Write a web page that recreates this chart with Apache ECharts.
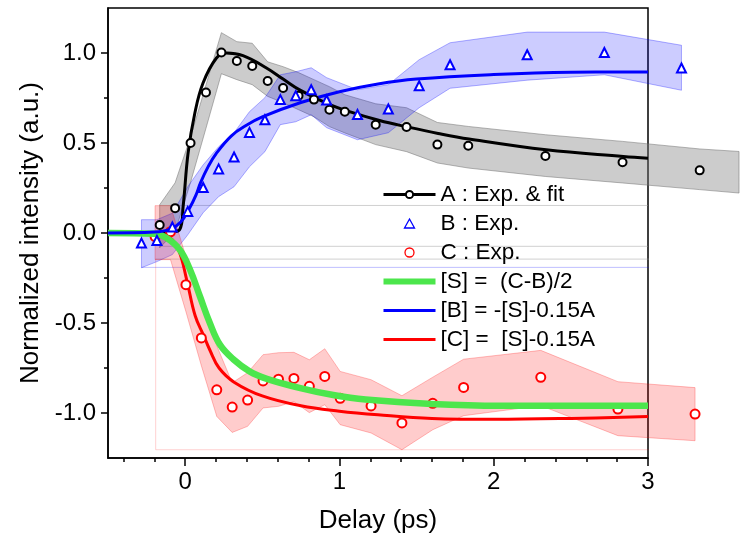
<!DOCTYPE html>
<html><head><meta charset="utf-8">
<script src="https://cdn.jsdelivr.net/npm/echarts@6/dist/echarts.min.js"></script>
<style>html,body{margin:0;padding:0;background:#fff}#c{width:740px;height:542px}</style>
</head><body><div id="c"></div>
<script>
// ---- experimental points ----
const A_x = [-0.165,-0.065,0.035,0.135,0.235,0.335,0.435,0.535,0.635,0.735,0.835,0.935,1.035,1.235,1.435,1.635,1.835,2.335,2.835,3.335];
const A_y = [0.044,0.138,0.50,0.781,1.003,0.956,0.928,0.844,0.806,0.763,0.741,0.685,0.674,0.602,0.589,0.491,0.485,0.428,0.393,0.348];
const B_x = [-0.283,-0.183,-0.083,0.017,0.117,0.217,0.317,0.417,0.517,0.617,0.717,0.817,0.917,1.117,1.317,1.517,1.717,2.217,2.717,3.217];
const B_y = [-0.056,-0.041,0.033,0.12,0.253,0.356,0.422,0.559,0.629,0.741,0.763,0.796,0.739,0.658,0.689,0.818,0.935,0.99,1.003,0.917];
const C_x = [-0.195,-0.095,0.005,0.105,0.205,0.305,0.405,0.505,0.605,0.705,0.805,0.905,1.005,1.205,1.405,1.605,1.805,2.305,2.805,3.305];
const C_y = [-0.02,0.007,-0.287,-0.583,-0.871,-0.967,-0.928,-0.822,-0.812,-0.808,-0.852,-0.797,-0.918,-0.961,-1.055,-0.946,-0.858,-0.802,-0.978,-1.006];

// ---- shaded bands (upper / lower) ----
const bandA_x = [-0.165,-0.065,0.035,0.135,0.235,0.335,0.435,0.535,0.635,0.735,0.835,0.935,1.035,1.235,1.435,1.635,1.835,2.335,2.835,3.335,3.59];
const bandA_up = [0.157,0.279,0.533,0.822,1.113,1.063,1.054,0.951,0.924,0.891,0.852,0.813,0.768,0.718,0.696,0.614,0.592,0.546,0.509,0.467,0.453];
const bandA_lo = [-0.082,0.007,0.281,0.582,0.885,0.852,0.824,0.759,0.724,0.685,0.646,0.591,0.556,0.491,0.452,0.389,0.361,0.314,0.278,0.241,0.222];
const bandB_up = [0.074,0.074,0.11,0.257,0.379,0.479,0.557,0.674,0.752,0.879,0.896,0.918,0.863,0.796,0.824,0.963,1.057,1.116,1.116,1.043];
const bandB_lo = [-0.193,-0.159,-0.12,-0.01,0.113,0.202,0.257,0.368,0.452,0.602,0.618,0.657,0.585,0.518,0.557,0.696,0.804,0.849,0.879,0.793];
const bandC_up = [0.152,0.152,-0.132,-0.382,-0.626,-0.832,-0.776,-0.676,-0.665,-0.663,-0.704,-0.643,-0.769,-0.815,-0.904,-0.801,-0.701,-0.652,-0.826,-0.859];
const bandC_lo = [-0.148,-0.148,-0.437,-0.737,-1.019,-1.108,-1.074,-0.972,-0.963,-0.937,-0.998,-0.954,-1.065,-1.111,-1.204,-1.093,-1.015,-0.959,-1.126,-1.154];

// ---- fitted / model curves ----
const fitA_x = [-0.5,-0.2,-0.1,-0.035,-0.013,0.019,0.063,0.116,0.203,0.268,0.375,0.527,0.635,0.742,0.915,1.065,1.26,1.436,1.64,1.84,2.34,2.84,3.0];
const fitA_y = [0,0,0.005,0.02,0.148,0.444,0.667,0.833,0.972,1.0,0.985,0.917,0.855,0.795,0.722,0.674,0.625,0.59,0.553,0.522,0.462,0.425,0.415];
const fitB_x = [-0.5,-0.2,-0.1,-0.03,0.03,0.07,0.1,0.15,0.2,0.3,0.4,0.5,0.75,1.0,1.25,1.5,2.0,2.5,3.0];
const fitB_y = [0,0.005,0.02,0.06,0.14,0.21,0.28,0.37,0.44,0.54,0.6,0.645,0.725,0.785,0.828,0.855,0.88,0.893,0.895];
const fitS_x = [-0.5,-0.2,-0.12,-0.035,0.03,0.095,0.16,0.225,0.31,0.42,0.53,0.74,0.96,1.17,1.6,2.04,3.0];
const fitS_y = [0,-0.004,-0.028,-0.093,-0.2,-0.35,-0.5,-0.62,-0.7,-0.77,-0.81,-0.86,-0.9,-0.925,-0.95,-0.96,-0.96];
const fitC_x = [-0.5,-0.2,-0.1,-0.04,0.01,0.065,0.12,0.16,0.22,0.32,0.5,0.75,1.0,1.25,1.6,2.0,2.5,3.0];
const fitC_y = [0,0,-0.025,-0.1,-0.26,-0.46,-0.57,-0.65,-0.75,-0.83,-0.905,-0.96,-0.99,-1.01,-1.03,-1.035,-1.03,-1.02];

// ---- faint outline artefacts of the original export ----
const guideGrey = [[[-0.165,0.153],[3.0,0.153]], [[-0.165,-0.074],[3.0,-0.074]], [[-0.191,-0.145],[3.59,-0.145]]];
const guideBlue = [[[-0.283,-0.191],[3.217,-0.191],[3.217,0.793]]];
const guidePink = [[[-0.191,-0.143],[-0.191,-1.204],[3.305,-1.204],[3.305,-1.154]]];

// ---- axes ----
const xMajor = [0,1,2,3];
const xMinor = [-0.4,-0.2,0.2,0.4,0.6,0.8,1.2,1.4,1.6,1.8,2.2,2.4,2.6,2.8];
const yMajor = [-1,-0.5,0,0.5,1];
const yMinor = [-0.75,-0.25,0.25,0.75];

const legendNames = ['A : Exp. & fit','B : Exp.','C : Exp.','[S] =  (C-B)/2','[B] = -[S]-0.15A','[C] =  [S]-0.15A'];

const FONT = "'Liberation Sans', Arial, sans-serif";
const zip = (xs, ys) => xs.map((x, i) => [x, ys[i]]);

function band(xs, up, lo, fill, stroke, z) {
  return {
    type: 'custom', silent: true, z: z, clip: false,
    coordinateSystem: 'cartesian2d', xAxisIndex: 0, yAxisIndex: 0,
    data: [[xs[0], up[0]]],
    renderItem: function (params, api) {
      const pts = [];
      for (let i = 0; i < xs.length; i++) pts.push(api.coord([xs[i], up[i]]));
      for (let i = xs.length - 1; i >= 0; i--) pts.push(api.coord([xs[i], lo[i]]));
      return { type: 'polygon', shape: { points: pts }, style: { fill: fill, stroke: stroke, lineWidth: 1 } };
    }
  };
}
function guide(lines, color) {
  return lines.map(p => ({
    type: 'line', silent: true, z: 1, clip: false, symbol: 'none',
    data: p, lineStyle: { color: color, width: 1 }
  }));
}
function fit(name, xs, ys, color, width, z, symbol) {
  return {
    type: 'line', name: name, silent: true, z: z, clip: false,
    symbol: symbol || 'none', showSymbol: false, smooth: 0.4,
    data: zip(xs, ys),
    itemStyle: { color: symbol ? '#000' : color },
    lineStyle: { color: color, width: width }
  };
}
function pts(name, xs, ys, symbol, color, size, z) {
  return {
    type: 'scatter', name: name, silent: true, z: z, clip: false,
    symbol: symbol, symbolSize: size, data: zip(xs, ys),
    itemStyle: { color: color, borderWidth: 1.2, opacity: 1 }
  };
}
const bar = h => 'path://M0,0H52V' + h + 'H0Z';

const chart = echarts.init(document.getElementById('c'), null, { renderer: 'canvas' });
const axisLine = { show: true, onZero: false, lineStyle: { color: '#000', width: 1.5 } };
chart.setOption({
  animation: false,
  backgroundColor: '#fff',
  grid: { left: 108, right: 92, top: 8, bottom: 84, show: true, borderColor: '#000', borderWidth: 1.5, backgroundColor: 'transparent' },
  xAxis: [
    { type: 'value', position: 'bottom', min: -0.5, max: 3,
      name: 'Delay (ps)', nameLocation: 'middle', nameGap: 50,
      nameTextStyle: { fontFamily: FONT, fontSize: 26, color: '#000' },
      axisLine: axisLine,
      axisTick: { show: true, inside: false, length: 8, customValues: xMajor, lineStyle: { color: '#000', width: 1.5 } },
      axisLabel: { customValues: xMajor, margin: 12, fontFamily: FONT, fontSize: 24, color: '#000', formatter: v => String(v) },
      splitLine: { show: false } },
    { type: 'value', position: 'bottom', min: -0.5, max: 3,
      axisLine: { show: false, onZero: false },
      axisTick: { show: true, length: 4, customValues: xMinor, lineStyle: { color: '#000', width: 1.5 } },
      axisLabel: { show: false }, splitLine: { show: false } }
  ],
  yAxis: [
    { type: 'value', position: 'left', min: -1.25, max: 1.25,
      name: 'Normalized intensity (a.u.)', nameLocation: 'middle', nameGap: 58,
      nameTextStyle: { fontFamily: FONT, fontSize: 26, color: '#000' },
      axisLine: axisLine,
      axisTick: { show: true, length: 7, customValues: yMajor, lineStyle: { color: '#000', width: 1.5 } },
      axisLabel: { customValues: yMajor, margin: 12, fontFamily: FONT, fontSize: 24, color: '#000', formatter: v => v.toFixed(1) },
      splitLine: { show: false } },
    { type: 'value', position: 'left', min: -1.25, max: 1.25,
      axisLine: { show: false, onZero: false },
      axisTick: { show: true, length: 4, customValues: yMinor, lineStyle: { color: '#000', width: 1.5 } },
      axisLabel: { show: false }, splitLine: { show: false } }
  ],
  legend: {
    orient: 'vertical', left: 382, top: 183, padding: 0,
    itemWidth: 52, itemHeight: 9, itemGap: 6,
    selectedMode: false, symbolKeepAspect: true,
    textStyle: { fontFamily: FONT, fontSize: 22.5, color: '#000', lineHeight: 23 },
    lineStyle: { width: 'inherit' },
    data: [
      { name: legendNames[0] },
      { name: legendNames[1], icon: 'path://M5,0L10,9L0,9Z', itemStyle: { color: '#fff', borderColor: '#0000ff', borderWidth: 1.3, opacity: 1 } },
      { name: legendNames[2], icon: 'circle', itemStyle: { color: '#fff', borderColor: '#ff0000', borderWidth: 1.3, opacity: 1 } },
      { name: legendNames[3], icon: bar(6), itemStyle: { color: '#4ce64c', borderWidth: 0 } },
      { name: legendNames[4], icon: bar(3), itemStyle: { color: '#0000ff', borderWidth: 0 } },
      { name: legendNames[5], icon: bar(3), itemStyle: { color: '#ff0000', borderWidth: 0 } }
    ]
  },
  series: [
    ...guide(guideGrey, 'rgba(150,150,150,0.45)'),
    ...guide(guideBlue, 'rgba(0,0,255,0.25)'),
    ...guide(guidePink, 'rgba(255,0,0,0.18)'),
    band(bandA_x, bandA_up, bandA_lo, 'rgba(128,128,128,0.4)', 'rgba(110,110,110,0.5)', 2),
    band(B_x, bandB_up, bandB_lo, 'rgba(0,0,255,0.2)', 'rgba(0,0,255,0.3)', 3),
    band(C_x, bandC_up, bandC_lo, 'rgba(255,0,0,0.2)', 'rgba(255,0,0,0.25)', 4),
    fit('[C] =  [S]-0.15A', fitC_x, fitC_y, '#ff0000', 3, 5),
    fit('A : Exp. & fit', fitA_x, fitA_y, '#000000', 3, 6, 'emptyCircle'),
    pts('C : Exp.', C_x, C_y, 'emptyCircle', '#ff0000', 9, 7),
    fit('[S] =  (C-B)/2', fitS_x, fitS_y, '#4ce64c', 6.5, 8),
    fit('[B] = -[S]-0.15A', fitB_x, fitB_y, '#0000ff', 3, 9),
    pts('A pts', A_x, A_y, 'emptyCircle', '#000000', 8, 10),
    pts('B : Exp.', B_x, B_y, 'emptyTriangle', '#0000ff', 9, 10)
  ]
});
</script></body></html>
